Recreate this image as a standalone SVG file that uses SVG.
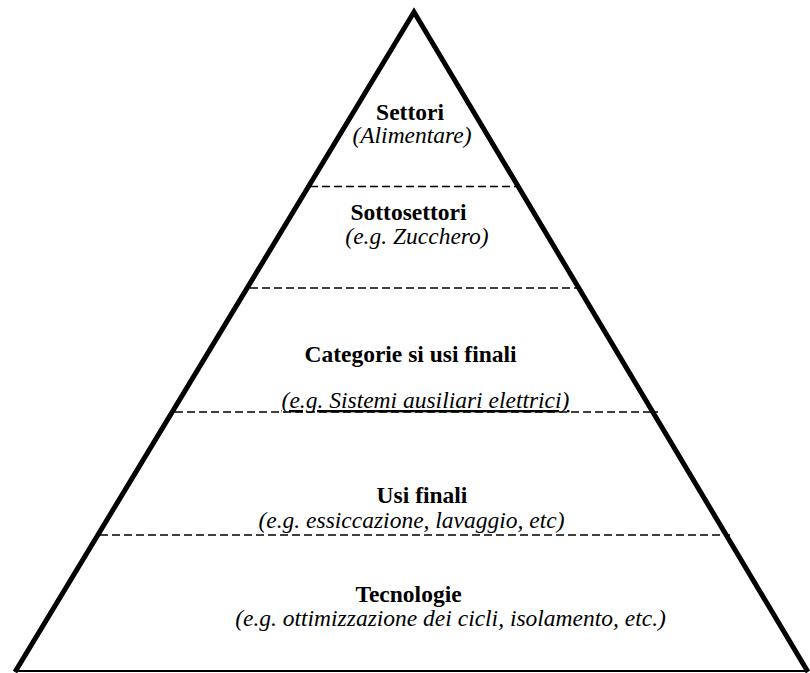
<svg xmlns="http://www.w3.org/2000/svg" width="810" height="673" viewBox="0 0 810 673">
<style>
.side{stroke:#000;stroke-width:5;fill:none;stroke-linejoin:miter}
.base{stroke:#000;stroke-width:2;fill:none}
.dash{stroke:#000;stroke-width:1.5;stroke-dasharray:8,4;fill:none}
text{font-family:'Liberation Serif','DejaVu Serif',serif;text-anchor:middle;fill:#000}
.t{font-size:23.5px;font-weight:bold}
.s{font-size:23.5px;font-style:italic}
</style>
<rect width="810" height="673" fill="#fff"/>
<g id="connectors">
<polyline class="side" points="15,672 414,12 808,672"/>
<line class="base" x1="15" y1="671" x2="808" y2="671"/>
<line class="dash" x1="310" y1="186.5" x2="520" y2="186.5"/>
<line class="dash" x1="250" y1="288" x2="579" y2="288"/>
<line class="dash" x1="175" y1="412" x2="658" y2="412"/>
<line class="dash" x1="100" y1="535" x2="730" y2="535"/>
</g>
<g id="settori">
<text class="t" x="410" y="120">Settori</text>
<text class="s" x="412" y="143">(Alimentare)</text>
</g>
<g id="sottosettori">
<text class="t" x="408.5" y="220">Sottosettori</text>
<text class="s" x="417" y="244">(e.g. Zucchero)</text>
</g>
<g id="categorie">
<text class="t" x="410.5" y="362">Categorie si usi finali</text>
<text class="s" x="425.5" y="408" text-decoration="underline">(e.g. Sistemi ausiliari elettrici)</text>
</g>
<g id="usi-finali">
<text class="t" x="422" y="503">Usi finali</text>
<text class="s" x="411.5" y="528">(e.g. essiccazione, lavaggio, etc)</text>
</g>
<g id="tecnologie">
<text class="t" x="408.5" y="602">Tecnologie</text>
<text class="s" x="450.5" y="626">(e.g. ottimizzazione dei cicli, isolamento, etc.)</text>
</g>
</svg>
